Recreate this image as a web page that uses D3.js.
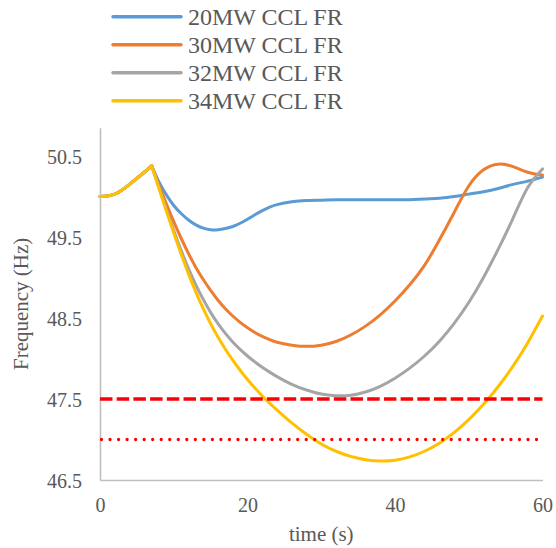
<!DOCTYPE html>
<html>
<head>
<meta charset="utf-8">
<script src="https://cdn.jsdelivr.net/npm/d3@7"></script>
<style>
  html, body { margin: 0; padding: 0; background: #fff; }
  svg { display: block; }
  text { font-family: "Liberation Serif", "Times New Roman", serif; fill: #595959; }
</style>
</head>
<body>
<svg id="chart" width="556" height="548"></svg>
<script>
// ---- data ----
const times = [0,1,2,3,4,5,6,7,8,9,10,11,12,13,14,15,16,17,18,19,20,21,22,23,24,26,28,30,32,34,36,38,40,42,44,46,48,50,52,54,56,58,60];
const seriesNames = ["20MW CCL FR", "30MW CCL FR", "32MW CCL FR", "34MW CCL FR"];
const start = [50.00,50.008,50.03,50.08,50.15,50.225,50.30,50.38];
const blue20 = start.concat([50.18,50.02,49.89,49.79,49.71,49.65,49.61,49.59,49.59,49.605,49.63,49.67,49.72,49.775,49.825,49.868,49.90,
  49.935,49.95,49.955,49.96,49.96,49.96,49.96,49.96,49.96,49.97,49.98,50.00,50.03,50.06,50.10,50.15,50.19,50.24]);
const orange30 = start.concat([50.14,49.91,49.69,49.485,49.295,49.125,48.975,48.84,48.72,48.615,48.525,48.447,48.38,48.322,48.273,48.233,48.20,
  48.165,48.15,48.165,48.21,48.29,48.40,48.54,48.71,48.91,49.15,49.46,49.80,50.13,50.33,50.40,50.37,50.30,50.265]);
const gray32 = start.concat([50.11,49.84,49.58,49.335,49.11,48.91,48.73,48.57,48.43,48.31,48.205,48.113,48.031,47.958,47.892,47.832,47.777,
  47.681,47.611,47.561,47.541,47.547,47.587,47.657,47.757,47.881,48.031,48.211,48.431,48.691,49.001,49.351,49.731,50.111,50.341]);
const yellow34 = start.concat([50.10,49.82,49.55,49.29,49.045,48.82,48.615,48.43,48.265,48.115,47.98,47.855,47.74,47.635,47.538,47.448,47.365,
  47.205,47.065,46.945,46.855,46.791,46.751,46.735,46.745,46.785,46.855,46.955,47.085,47.245,47.435,47.655,47.905,48.195,48.525]);
const seriesValues = [blue20, orange30, gray32, yellow34];
const seriesColors = ["#5B9BD5", "#ED7D31", "#A5A5A5", "#FFC000"];
const limitLevels = [47.5, 47.0];   // dashed, dotted
const peakTime = 7;
const xTicks = [0, 20, 40, 60];
const yTicks = [46.5, 47.5, 48.5, 49.5, 50.5];
const xTitle = "time (s)";
const yTitle = "Frequency (Hz)";

// ---- layout ----
const svg = d3.select("#chart");
const x = d3.scaleLinear().domain([0, 60]).range([100, 542.5]);
const y = d3.scaleLinear().domain([46.5, 50.85]).range([480, 127.7]);
const FONT = "'Liberation Serif', 'Times New Roman', serif";

// axes
const xAxis = svg.append("g").attr("transform", `translate(0,${y(46.5)})`)
  .call(d3.axisBottom(x).tickValues(xTicks).tickSize(0).tickSizeOuter(0).tickPadding(0).tickFormat(d3.format("d")));
const yAxis = svg.append("g").attr("transform", `translate(${x(0)},0)`)
  .call(d3.axisLeft(y).tickValues(yTicks).tickSize(0).tickSizeOuter(0).tickPadding(0).tickFormat(d3.format(".1f")));
[xAxis, yAxis].forEach(g => {
  g.attr("font-family", FONT).attr("font-size", 20);
  g.select(".domain").attr("stroke", "#BFBFBF").attr("stroke-width", 1.6);
  g.selectAll("text").attr("font-size", 20).style("font-family", FONT).attr("fill", "#595959");
});
xAxis.selectAll("text").attr("dy", null).attr("y", 25).attr("dominant-baseline", "central");
yAxis.selectAll("text").attr("x", -18).attr("dy", null).attr("dominant-baseline", "central");

// axis titles
svg.append("text").attr("x", (x(0) + x(60)) / 2).attr("y", 541).attr("text-anchor", "middle")
  .style("font-family", FONT).attr("font-size", 21).text(xTitle);
svg.append("text").attr("transform", `translate(28,${(y(46.5) + y(50.85)) / 2}) rotate(-90)`)
  .attr("text-anchor", "middle").style("font-family", FONT).attr("font-size", 21).text(yTitle);

// series
const line = d3.line().x(d => x(d.t)).y(d => y(d.v)).curve(d3.curveNatural);
seriesValues.forEach((vals, i) => {
  const pts = times.map((t, k) => ({ t, v: vals[k] }));
  const pieces = [pts.filter(p => p.t <= peakTime), pts.filter(p => p.t >= peakTime)];
  const g = svg.append("g");
  pieces.forEach(pc => {
    g.append("path").datum(pc).attr("d", line)
      .attr("fill", "none").attr("stroke", seriesColors[i]).attr("stroke-width", 3)
      .attr("stroke-linejoin", "round").attr("stroke-linecap", "round");
  });
});

// limit lines
svg.append("line").attr("x1", x(0)).attr("x2", x(60)).attr("y1", y(limitLevels[0])).attr("y2", y(limitLevels[0]))
  .attr("stroke", "#FF0000").attr("stroke-width", 3.6).attr("stroke-dasharray", "12.5,4.2");
svg.append("line").attr("x1", x(0) + 1.5).attr("x2", x(60)).attr("y1", y(limitLevels[1])).attr("y2", y(limitLevels[1]))
  .attr("stroke", "#FF0000").attr("stroke-width", 3.3).attr("stroke-dasharray", "0,8.53").attr("stroke-linecap", "round");

// legend
const leg = svg.append("g");
seriesNames.forEach((name, i) => {
  const cy = 16.7 + i * 28;
  leg.append("line").attr("x1", 113).attr("x2", 181).attr("y1", cy).attr("y2", cy)
    .attr("stroke", seriesColors[i]).attr("stroke-width", 3.5).attr("stroke-linecap", "round");
  leg.append("text").attr("x", 188).attr("y", cy).attr("dominant-baseline", "central")
    .style("font-family", FONT).attr("font-size", 24).text(name);
});
</script>
</body>
</html>
